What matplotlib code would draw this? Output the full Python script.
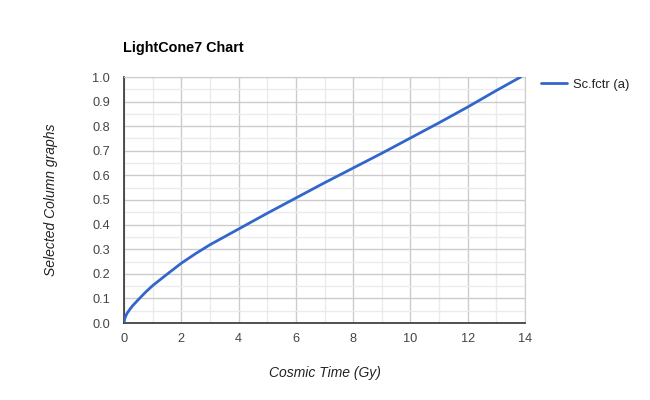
import numpy as np
import matplotlib.pyplot as plt

# cosmic time (Gy) and scale factor
temps = [0, 0.02, 0.05, 0.1, 0.2, 0.3, 0.5, 0.75, 1, 1.25, 1.5, 2, 2.5, 3, 3.5, 4,
         5, 6, 7, 8, 9, 10, 11, 12, 13, 13.85]
echelle = [0, 0.015, 0.025, 0.038, 0.055, 0.07, 0.095, 0.125, 0.152, 0.175, 0.198,
           0.243, 0.282, 0.318, 0.35, 0.382, 0.446, 0.508, 0.57, 0.63, 0.69, 0.752,
           0.814, 0.878, 0.945, 1.0]

plt.rcParams['font.family'] = ['Liberation Sans', 'DejaVu Sans']

fig = plt.figure(figsize=(6.5, 4), dpi=100)
ax = fig.add_axes([124 / 650, 77 / 400, 401 / 650, 246 / 400])

ax.plot(temps, echelle, color="#3366cc", lw=2, label="Sc.fctr (a)", zorder=3,
        solid_joinstyle="round", solid_capstyle="round")

ax.set_xlim(0, 14)
ax.set_ylim(0, 1.0)
ax.set_xticks(np.arange(0, 15, 2))
ax.set_xticks(np.arange(1, 14, 2), minor=True)
ax.set_yticks(np.round(np.arange(0, 1.01, 0.1), 1))
ax.set_yticks(np.arange(0.05, 1.0, 0.1), minor=True)
ax.set_yticklabels([f"{v:.1f}" for v in np.arange(0, 1.01, 0.1)])

ax.grid(which="major", color="#cccccc", lw=1)
ax.grid(which="minor", color="#ebebeb", lw=1)
ax.set_axisbelow(True)
ax.tick_params(which="both", length=0, labelsize=9.2, labelcolor="#444444")
ax.tick_params(axis="x", pad=7)
ax.tick_params(axis="y", pad=10)

for s in ["top", "right"]:
    ax.spines[s].set_color("#cccccc")
for s in ["left", "bottom"]:
    ax.spines[s].set_color("#333333")
    ax.spines[s].set_linewidth(1.2)

fig.text(123 / 650, 1 - 48 / 400, "LightCone7 Chart", fontsize=10.4, fontweight="bold",
         va="center", ha="left", color="#000000")
ax.set_xlabel("Cosmic Time (Gy)", fontsize=10, style="italic", color="#222222", labelpad=15)
ax.set_ylabel("Selected Column graphs", fontsize=10, style="italic", color="#222222", labelpad=25)

ax.legend(loc="upper left", bbox_to_anchor=(1.02, 1.025), frameon=False, fontsize=9.4,
          handlelength=2.0, handletextpad=0.5, borderaxespad=0.2, labelcolor="#222222")

fig.savefig("out.png", dpi=100)
